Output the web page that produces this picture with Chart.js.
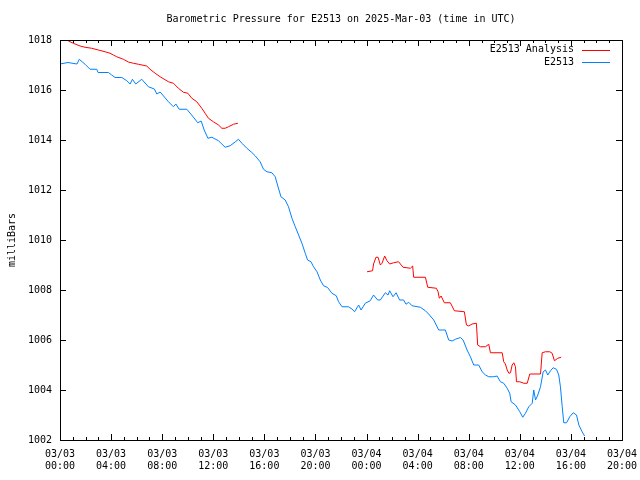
<!DOCTYPE html>
<html>
<head>
<meta charset="utf-8">
<script src="https://cdn.jsdelivr.net/npm/chart.js@4.4.1/dist/chart.umd.min.js"></script>
<style>
  html, body { margin: 0; padding: 0; background: #fff; }
</style>
</head>
<body>
<canvas id="chart1" width="640" height="480"></canvas>
<script>
// hours since 03/03 00:00 UTC
const blueHours = [0, 0.63, 1.33, 1.51, 1.96, 2.35, 2.88, 2.98, 3.79, 4.05, 4.31, 4.84, 5.23, 5.49, 5.67, 5.93, 6.4, 6.92, 7.39, 7.58, 7.84, 8.49, 8.88, 9.07, 9.33, 9.93, 10.37, 10.79, 11.05, 11.29, 11.58, 11.89, 12.41, 12.93, 13.32, 13.71, 13.97, 14.24, 14.63, 15.02, 15.28, 15.67, 15.93, 16.2, 16.59, 16.85, 17.03, 17.3, 17.63, 17.89, 18.16, 18.42, 18.68, 18.94, 19.2, 19.38, 19.65, 19.85, 20.12, 20.38, 20.63, 20.95, 21.29, 21.63, 21.81, 22.08, 22.59, 22.86, 23.06, 23.38, 23.57, 23.9, 24.29, 24.55, 24.87, 25.08, 25.47, 25.68, 25.81, 26.07, 26.31, 26.59, 26.9, 27.09, 27.3, 27.56, 28.21, 28.61, 28.86, 29.26, 29.65, 30.17, 30.43, 30.7, 30.96, 31.35, 31.56, 31.87, 32.13, 32.39, 32.78, 33.05, 33.31, 33.57, 33.96, 34.22, 34.48, 34.74, 35.01, 35.21, 35.32, 35.66, 36.0, 36.23, 36.44, 36.7, 36.97, 37.09, 37.23, 37.41, 37.62, 37.83, 38.01, 38.19, 38.4, 38.61, 38.87, 39.05, 39.18, 39.32, 39.44, 39.66, 39.91, 40.18, 40.44, 40.62, 40.88, 41.07]
const blueValues = [1017.04, 1017.1, 1017.04, 1017.23, 1017.03, 1016.83, 1016.83, 1016.7, 1016.7, 1016.6, 1016.5, 1016.5, 1016.37, 1016.24, 1016.43, 1016.24, 1016.43, 1016.13, 1016.04, 1015.84, 1015.92, 1015.53, 1015.33, 1015.44, 1015.23, 1015.23, 1014.96, 1014.69, 1014.76, 1014.4, 1014.07, 1014.11, 1013.97, 1013.71, 1013.77, 1013.92, 1014.03, 1013.87, 1013.67, 1013.5, 1013.37, 1013.13, 1012.83, 1012.73, 1012.69, 1012.53, 1012.2, 1011.73, 1011.6, 1011.33, 1010.87, 1010.53, 1010.2, 1009.87, 1009.47, 1009.2, 1009.13, 1008.93, 1008.73, 1008.4, 1008.17, 1008.1, 1007.87, 1007.77, 1007.53, 1007.33, 1007.33, 1007.24, 1007.13, 1007.4, 1007.2, 1007.47, 1007.57, 1007.8, 1007.6, 1007.6, 1007.89, 1007.8, 1007.97, 1007.73, 1007.89, 1007.6, 1007.6, 1007.43, 1007.51, 1007.37, 1007.31, 1007.17, 1007.04, 1006.8, 1006.4, 1006.4, 1006.0, 1005.96, 1006.03, 1006.1, 1006.0, 1005.6, 1005.33, 1005.0, 1005.0, 1004.73, 1004.6, 1004.53, 1004.53, 1004.56, 1004.33, 1004.27, 1004.07, 1003.87, 1003.53, 1003.4, 1003.13, 1002.91, 1003.07, 1003.33, 1003.47, 1004.0, 1003.6, 1003.8, 1004.13, 1004.73, 1004.8, 1004.6, 1004.77, 1004.89, 1004.83, 1004.6, 1004.13, 1003.33, 1002.69, 1002.69, 1002.93, 1003.09, 1003.0, 1002.6, 1002.33, 1002.16]

// analysis series, null marks the gap
const redHours = [0.65, 1.04, 1.57, 1.96, 2.48, 3.0, 3.53, 3.92, 4.18, 4.44, 4.96, 5.35, 5.74, 6.14, 6.79, 7.05, 7.45, 7.84, 8.49, 8.88, 9.27, 9.66, 10.01, 10.32, 10.71, 11.1, 11.36, 11.62, 12.01, 12.41, 12.67, 12.93, 13.19, 13.58, 13.93,
  19,
  24.04, 24.47, 24.55, 24.74, 24.9, 25.08, 25.21, 25.42, 25.6, 25.81, 26.12, 26.51, 26.65, 26.86, 27.43, 27.61, 27.69, 28.61, 28.79, 29.47, 29.6, 29.7, 29.84, 30.09, 30.56, 30.88, 31.66, 31.82, 32.0, 32.26, 32.6, 32.7, 32.92, 33.31, 33.57, 33.7, 34.62, 34.74, 34.87, 35.01, 35.14, 35.27, 35.4, 35.53, 35.66, 35.74, 36.0, 36.32, 36.58, 36.78, 37.62, 37.75, 38.01, 38.35, 38.53, 38.71, 38.97, 39.24]
const redValues = [1017.96, 1017.87, 1017.76, 1017.71, 1017.67, 1017.6, 1017.53, 1017.47, 1017.4, 1017.33, 1017.23, 1017.12, 1017.07, 1017.03, 1016.96, 1016.83, 1016.67, 1016.53, 1016.33, 1016.27, 1016.07, 1015.91, 1015.87, 1015.67, 1015.53, 1015.27, 1015.07, 1014.87, 1014.73, 1014.6, 1014.47, 1014.47, 1014.53, 1014.63, 1014.67,
  null,
  1008.73, 1008.77, 1009.04, 1009.31, 1009.31, 1009.0, 1009.07, 1009.36, 1009.17, 1009.04, 1009.09, 1009.13, 1009.04, 1008.91, 1008.87, 1008.96, 1008.51, 1008.51, 1008.11, 1008.07, 1007.93, 1007.67, 1007.76, 1007.49, 1007.49, 1007.17, 1007.13, 1006.6, 1006.56, 1006.64, 1006.67, 1005.8, 1005.73, 1005.73, 1005.83, 1005.49, 1005.49, 1005.13, 1005.04, 1004.8, 1004.67, 1004.69, 1005.0, 1005.09, 1004.93, 1004.33, 1004.33, 1004.27, 1004.27, 1004.64, 1004.64, 1005.49, 1005.53, 1005.53, 1005.47, 1005.17, 1005.27, 1005.31]

const dayLabels = ['03/03', '03/04']
const titleText = 'Barometric Pressure for E2513 on 2025-Mar-03 (time in UTC)'

const FONT = 'DejaVu Sans Mono'
Chart.defaults.color = '#000'
Chart.defaults.font.family = FONT
Chart.defaults.font.size = 10

let toPoints = (xs, ys) => xs.map((x, i) => ({ x, y: ys[i] }))

// gnuplot-like frame with inward ticks on all four sides, plus legend
const framePlugin = {
  id: 'frame',
  afterDraw(chart) {
    const { ctx, chartArea: a, scales } = chart
    const xs = scales.x, ys = scales.y
    ctx.save()
    ctx.strokeStyle = '#000'
    ctx.lineWidth = 1
    ctx.beginPath()
    for (let h = xs.min; h <= xs.max; h++) {
      let px = Math.round(xs.getPixelForValue(h)) + 0.5
      let len = h % 4 === 0 ? 6 : 3
      ctx.moveTo(px, a.bottom); ctx.lineTo(px, a.bottom - len)
      ctx.moveTo(px, a.top); ctx.lineTo(px, a.top + len)
    }
    for (let v = ys.min; v <= ys.max; v += 2) {
      let py = Math.round(ys.getPixelForValue(v)) + 0.5
      ctx.moveTo(a.left, py); ctx.lineTo(a.left + 6, py)
      ctx.moveTo(a.right, py); ctx.lineTo(a.right - 6, py)
    }
    ctx.stroke()
    ctx.strokeRect(Math.round(a.left) + 0.5, Math.round(a.top) + 0.5, Math.round(a.right - a.left), Math.round(a.bottom - a.top))

    // legend, top right inside the plot
    ctx.font = '10px "' + FONT + '"'
    ctx.textAlign = 'right'
    ctx.textBaseline = 'middle'
    ctx.fillStyle = '#000'
    chart.data.datasets.forEach((ds, i) => {
      let y = a.top + 9.5 + i * 12.5
      ctx.fillText(ds.label, a.right - 48, y)
      ctx.strokeStyle = ds.borderColor
      ctx.beginPath()
      ctx.moveTo(a.right - 40, Math.round(y) + 0.5)
      ctx.lineTo(a.right - 12, Math.round(y) + 0.5)
      ctx.stroke()
    })
    ctx.restore()
  }
}

let ctx = document.getElementById('chart1').getContext('2d')
new Chart(ctx, {
  type: 'line',
  data: {
    datasets: [{
      label: 'E2513 Analysis',
      data: toPoints(redHours, redValues),
      borderColor: 'rgb(255,0,0)',
      borderWidth: 1,
      pointRadius: 0,
      spanGaps: false,
      tension: 0
    }, {
      label: 'E2513',
      data: toPoints(blueHours, blueValues),
      borderColor: 'rgb(0,128,255)',
      borderWidth: 1,
      pointRadius: 0,
      tension: 0
    }]
  },
  options: {
    responsive: false,
    animation: false,
    devicePixelRatio: 1,
    layout: { padding: { left: 0, right: 18, top: 0, bottom: 0 } },
    plugins: {
      legend: { display: false },
      tooltip: { enabled: false },
      title: {
        display: true,
        text: titleText,
        fullSize: false,
        color: '#000',
        font: { family: FONT, size: 10, weight: 'normal', lineHeight: 1.2 },
        padding: { top: 13, bottom: 15 }
      }
    },
    scales: {
      x: {
        type: 'linear',
        min: 0,
        max: 44,
        grid: { display: false, drawTicks: false },
        border: { display: false },
        afterFit: s => { s.height = 40; s.paddingLeft = 0; s.paddingRight = 0 },
        ticks: {
          stepSize: 4,
          padding: 8,
          maxRotation: 0,
          autoSkip: false,
          callback: v => {
            let day = dayLabels[Math.floor(v / 24)] || '03/05'
            let hh = String(v % 24).padStart(2, '0')
            return [day, hh + ':00']
          }
        }
      },
      y: {
        min: 1002,
        max: 1018,
        grid: { display: false, drawTicks: false },
        border: { display: false },
        afterFit: s => { s.width = 60; s.paddingTop = 0; s.paddingBottom = 0 },
        ticks: { stepSize: 2, padding: 8, callback: v => String(v) },
        title: {
          display: true,
          text: 'milliBars',
          color: '#000',
          font: { family: FONT, size: 10 },
          padding: { top: 6, bottom: 0 }
        }
      }
    }
  },
  plugins: [framePlugin]
})
</script>
</body>
</html>
